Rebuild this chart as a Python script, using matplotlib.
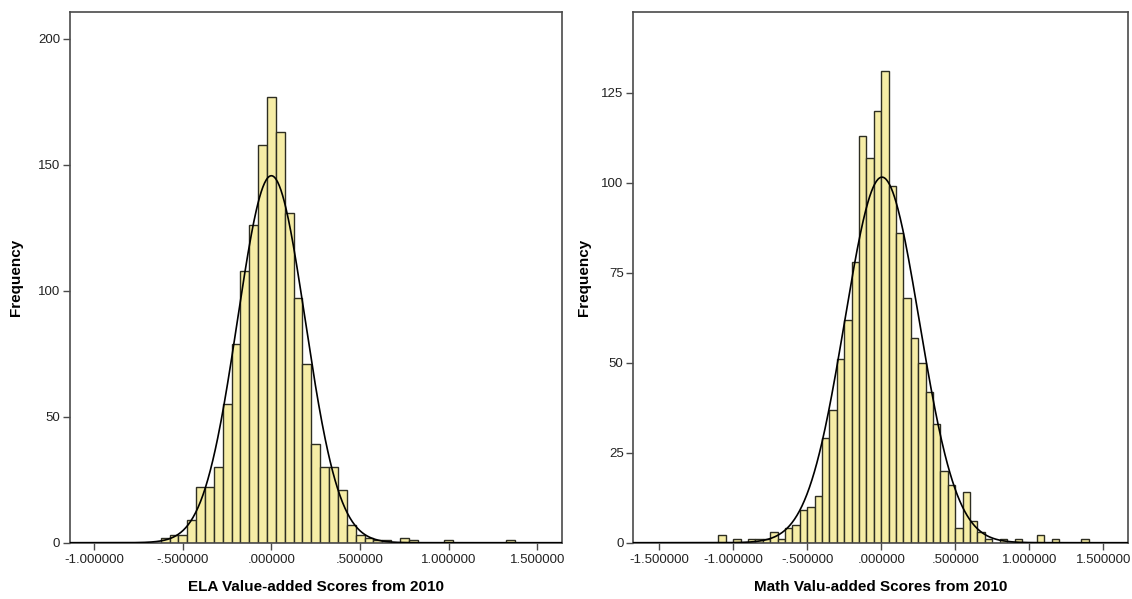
import numpy as np
import matplotlib
matplotlib.use("Agg")
import matplotlib.pyplot as plt
from matplotlib.ticker import FuncFormatter

# --- data (bin width 0.05) ---
BIN_W = 0.05

# ELA: bins centred on multiples of 0.05, first centre -0.60
ela_first_center = -0.60
ela_counts = [2, 3, 3, 9, 22, 22, 30, 55, 79, 108,
              126, 158, 177, 163, 131, 97, 71, 39, 30, 30,
              21, 7, 3, 2, 1, 1, 0, 2, 1, 0,
              0, 0, 1, 0, 0, 0, 0, 0, 0, 1]

# Math: bins start on multiples of 0.05, first left edge -1.10
math_first_edge = -1.10
math_counts = [2, 0, 1, 0, 1, 1, 1, 3, 1, 4,
               5, 9, 10, 13, 29, 37, 51, 62, 78, 113,
               107, 120, 131, 99, 86, 68, 57, 50, 42, 33,
               20, 16, 4, 14, 6, 3, 1, 0, 1, 0,
               1, 0, 0, 2, 0, 1, 0, 0, 0, 1]

ela_xticks = [-1.0, -0.5, 0.0, 0.5, 1.0, 1.5]
math_xticks = [-1.5, -1.0, -0.5, 0.0, 0.5, 1.0, 1.5]
ela_yticks = [0, 50, 100, 150, 200]
math_yticks = [0, 25, 50, 75, 100, 125]

BAR_COLOR = '#F6EDA6'
EDGE_COLOR = '#2e2e22'
FRAME_COLOR = '#4a4a4a'

plt.rcParams['font.family'] = ['Liberation Sans', 'DejaVu Sans']


def spss_fmt(v, pos):
    s = f"{v:.6f}"
    s = s.replace("0.", ".", 1) if s.startswith("0.") else s
    s = s.replace("-0.", "-.", 1) if s.startswith("-0.") else s
    if s == "-.000000":
        s = ".000000"
    return s


def draw_hist(ax, lefts, counts, xlim, ylim, xticks, yticks, xlabel, ylab_x):
    lefts = np.asarray(lefts)
    counts = np.asarray(counts)
    ax.bar(lefts, counts, width=BIN_W, align='edge', color=BAR_COLOR,
           edgecolor=EDGE_COLOR, linewidth=1.0, zorder=2)

    # fitted normal curve from the binned data
    centers = lefts + BIN_W / 2
    n = counts.sum()
    mu = (centers * counts).sum() / n
    sd = np.sqrt(((centers - mu) ** 2 * counts).sum() / (n - 1))
    xs = np.linspace(xlim[0], xlim[1], 600)
    ys = n * BIN_W / (sd * np.sqrt(2 * np.pi)) * np.exp(-0.5 * ((xs - mu) / sd) ** 2)
    ax.plot(xs, ys, color='black', linewidth=1.2, zorder=3)

    ax.set_xlim(*xlim)
    ax.set_ylim(*ylim)
    ax.set_xticks(xticks)
    ax.set_yticks(yticks)
    ax.xaxis.set_major_formatter(FuncFormatter(spss_fmt))
    ax.tick_params(direction='out', length=5, width=1, colors=FRAME_COLOR,
                   labelcolor='#222222', labelsize=9.5)
    ax.tick_params(axis='y', pad=2)
    for sp in ax.spines.values():
        sp.set_color(FRAME_COLOR)
        sp.set_linewidth(1.2)
    ax.set_xlabel(xlabel, fontsize=11, fontweight='bold', labelpad=10)
    ax.set_ylabel("Frequency", fontsize=11, fontweight='bold')
    ax.yaxis.set_label_coords(ylab_x, 0.5)


fig = plt.figure(figsize=(11.32, 5.99), dpi=100)
ax1 = fig.add_axes([0.0618, 0.094, 0.4344, 0.886])
ax2 = fig.add_axes([0.5595, 0.094, 0.4373, 0.886])

ela_lefts = ela_first_center - BIN_W / 2 + BIN_W * np.arange(len(ela_counts))
math_lefts = math_first_edge + BIN_W * np.arange(len(math_counts))

draw_hist(ax1, ela_lefts, ela_counts, (-1.1365, 1.637), (0, 210.7),
          ela_xticks, ela_yticks, "ELA Value-added Scores from 2010", -0.095)
draw_hist(ax2, math_lefts, math_counts, (-1.674, 1.669), (0, 147.5),
          math_xticks, math_yticks, "Math Valu-added Scores from 2010", -0.085)

fig.savefig("out.png", dpi=100)
